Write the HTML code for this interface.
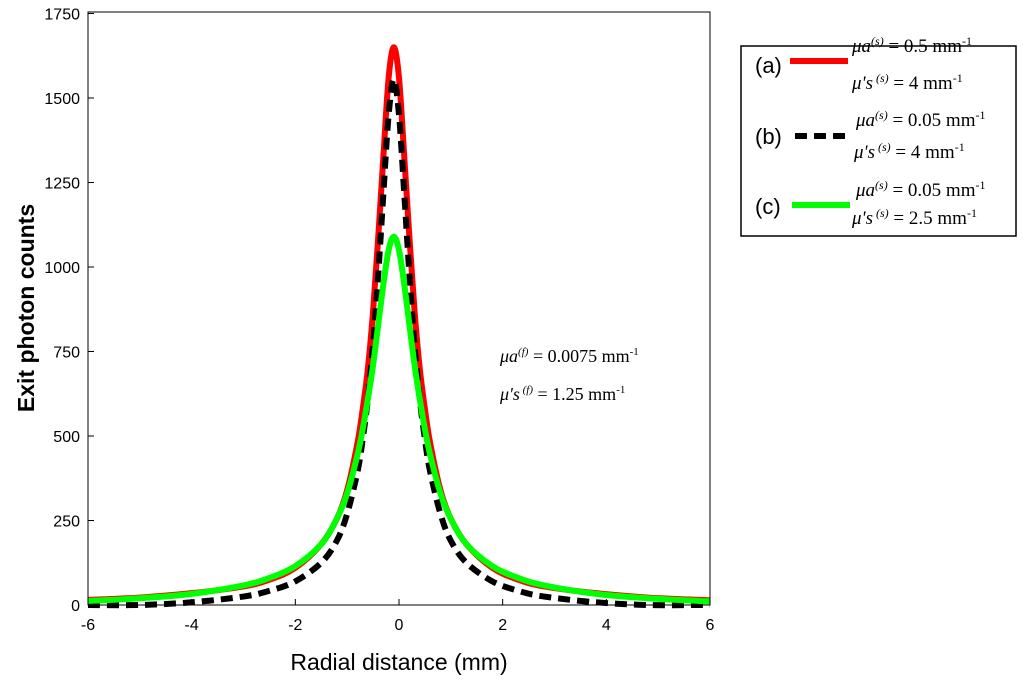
<!DOCTYPE html>
<html><head><meta charset="utf-8"><style>
body{margin:0;background:#fff;}
svg{display:block;font-family:"Liberation Sans",Arial,sans-serif;}
.ser{font-family:"Liberation Serif",serif;}
</style></head><body>
<svg id="chart" width="1024" height="689" viewBox="0 0 1024 689">
<g id="plot"></g>
<rect x="88" y="12" width="622" height="593" fill="none" stroke="#000" stroke-width="1"/>
<g id="axes"></g>
<text x="399" y="670" font-size="23" text-anchor="middle">Radial distance (mm)</text>
<text transform="translate(34,308) rotate(-90)" font-size="23" font-weight="bold" text-anchor="middle">Exit photon counts</text>
<g class="ser" font-size="18">
<text x="500" y="362"><tspan font-style="italic">μa</tspan><tspan font-size="11" dy="-7" font-style="italic">(f)</tspan><tspan dy="7"> = 0.0075 mm</tspan><tspan font-size="11" dy="-7">-1</tspan></text>
<text x="500" y="400"><tspan font-style="italic">μ's</tspan><tspan font-size="11" dy="-7" font-style="italic"> (f)</tspan><tspan dy="7"> = 1.25 mm</tspan><tspan font-size="11" dy="-7">-1</tspan></text>
</g>
<g>
<rect x="741" y="46" width="275" height="190" fill="#fff" stroke="#000" stroke-width="1.5"/>
<g>
<text x="755" y="73" font-size="22">(a)</text>
<line x1="790" y1="61" x2="848" y2="61" stroke="#f00" stroke-width="6"/>
<text class="ser" x="852" y="52" font-size="19"><tspan font-style="italic">μa</tspan><tspan font-size="12" dy="-7" font-style="italic">(s)</tspan><tspan dy="7"> = 0.5 mm</tspan><tspan font-size="12" dy="-7">-1</tspan></text>
<text class="ser" x="852" y="89" font-size="19"><tspan font-style="italic">μ's</tspan><tspan font-size="12" dy="-7" font-style="italic"> (s)</tspan><tspan dy="7"> = 4 mm</tspan><tspan font-size="12" dy="-7">-1</tspan></text>
</g>
<g>
<text x="755" y="144" font-size="22">(b)</text>
<line x1="795" y1="136" x2="848" y2="136" stroke="#000" stroke-width="6" stroke-dasharray="12,7"/>
<text class="ser" x="856" y="126" font-size="19"><tspan font-style="italic">μa</tspan><tspan font-size="12" dy="-7" font-style="italic">(s)</tspan><tspan dy="7"> = 0.05 mm</tspan><tspan font-size="12" dy="-7">-1</tspan></text>
<text class="ser" x="854" y="158" font-size="19"><tspan font-style="italic">μ's</tspan><tspan font-size="12" dy="-7" font-style="italic"> (s)</tspan><tspan dy="7"> = 4 mm</tspan><tspan font-size="12" dy="-7">-1</tspan></text>
</g>
<g>
<text x="755" y="214" font-size="22">(c)</text>
<line x1="792" y1="205" x2="850" y2="205" stroke="#0f0" stroke-width="6"/>
<text class="ser" x="856" y="196" font-size="19"><tspan font-style="italic">μa</tspan><tspan font-size="12" dy="-7" font-style="italic">(s)</tspan><tspan dy="7"> = 0.05 mm</tspan><tspan font-size="12" dy="-7">-1</tspan></text>
<text class="ser" x="852" y="224" font-size="19"><tspan font-style="italic">μ's</tspan><tspan font-size="12" dy="-7" font-style="italic"> (s)</tspan><tspan dy="7"> = 2.5 mm</tspan><tspan font-size="12" dy="-7">-1</tspan></text>
</g>
</g>
</svg>
<script>
const xVals=[-6,-5,-4,-3,-2.5,-2,-1.5,-1.2,-1,-0.8,-0.7,-0.6,-0.5,-0.4,-0.3,-0.2,-0.1,0,0.1,0.2,0.3,0.4,0.5,0.6,0.8,1,1.3,1.8,2.3,2.8,3.8,4.8,5.8,6];
const redVals=[15,22,35,55,75,110,180,255,340,480,580,700,870,1090,1330,1560,1650,1560,1330,1090,870,700,580,480,340,255,180,110,75,55,35,22,15,14];
const blackVals=[0,0,8,25,42,70,125,190,270,395,490,610,770,980,1220,1450,1555,1450,1220,980,770,610,490,395,270,190,125,70,42,25,8,0,0,0];
const greenVals=[12,20,33,58,80,115,180,255,330,445,520,610,710,830,950,1050,1090,1050,950,830,710,610,520,445,330,255,180,115,80,58,33,20,12,11];
const xTicks=[-6,-4,-2,0,2,4,6];
const yTicks=[0,250,500,750,1000,1250,1500,1750];
const X=v=>88+(v+6)/12*622;
const Y=v=>605-v/1750*591.5;
const NS='http://www.w3.org/2000/svg';
const plot=document.getElementById('plot'), axes=document.getElementById('axes');
function pathD(ys){
  const p=xVals.map((x,i)=>[X(x),Y(ys[i])]);
  let d='M'+p[0][0]+','+p[0][1];
  for(let i=0;i<p.length-1;i++){
    const p0=p[Math.max(i-1,0)],p1=p[i],p2=p[i+1],p3=p[Math.min(i+2,p.length-1)];
    const c1=[p1[0]+(p2[0]-p0[0])/6,p1[1]+(p2[1]-p0[1])/6];
    const c2=[p2[0]-(p3[0]-p1[0])/6,p2[1]-(p3[1]-p1[1])/6];
    d+=' C'+c1[0]+','+c1[1]+' '+c2[0]+','+c2[1]+' '+p2[0]+','+p2[1];
  }
  return d;
}
[[redVals,'#ff0000',null,'series-a-red'],[blackVals,'#000',"12,7",'series-b-black'],[greenVals,'#00ff00',null,'series-c-green']].forEach(s=>{
  const el=document.createElementNS(NS,'path');
  el.setAttribute('d',pathD(s[0]));
  el.setAttribute('fill','none');el.setAttribute('stroke',s[1]);el.setAttribute('stroke-width','6');
  el.setAttribute('stroke-linejoin','round');
  if(s[2])el.setAttribute('stroke-dasharray',s[2]);
  
  
  plot.appendChild(el);
});
xTicks.forEach(t=>{
  const l=document.createElementNS(NS,'line');
  l.setAttribute('x1',X(t));l.setAttribute('x2',X(t));l.setAttribute('y1',605);l.setAttribute('y2',599);l.setAttribute('stroke','#000');
  
  
  axes.appendChild(l);
  const tx=document.createElementNS(NS,'text');
  tx.setAttribute('x',X(t));tx.setAttribute('y',630);tx.setAttribute('font-size','16');tx.setAttribute('text-anchor','middle');
  tx.textContent=t;
  
  
  axes.appendChild(tx);
});
yTicks.forEach(t=>{
  const l=document.createElementNS(NS,'line');
  l.setAttribute('x1',88);l.setAttribute('x2',94);l.setAttribute('y1',Y(t));l.setAttribute('y2',Y(t));l.setAttribute('stroke','#000');
  
  
  axes.appendChild(l);
  const tx=document.createElementNS(NS,'text');
  tx.setAttribute('x',80);tx.setAttribute('y',Y(t)+6);tx.setAttribute('font-size','16');tx.setAttribute('text-anchor','end');
  tx.textContent=t;
  
  
  axes.appendChild(tx);
});
</script>
</body></html>
